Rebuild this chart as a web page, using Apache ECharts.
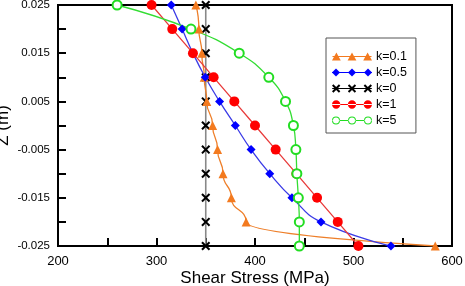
<!DOCTYPE html>
<html>
<head>
<meta charset="utf-8">
<script src="https://cdn.jsdelivr.net/npm/echarts@6/dist/echarts.min.js"></script>
<style>
html,body{margin:0;padding:0;background:#fff;}
#chart{width:465px;height:286px;}
</style>
</head>
<body>
<div id="chart"></div>
<script>
// z positions (m)
var zValues = [0.025, 0.02, 0.015, 0.01, 0.005, 0, -0.005, -0.01, -0.015, -0.02, -0.025];
// shear stress (MPa) per series
var stressK01 = [340, 343, 346, 348.5, 351, 357, 362, 367.5, 376, 391, 583];
var stressK05 = [315, 326, 337, 349.5, 364, 380, 396, 415, 437.5, 467, 538];
var stressK0  = [350, 350, 350, 350, 350, 350, 350, 350, 350, 350, 350];
var stressK1  = [295, 316, 337, 358, 379, 400, 421, 442, 463, 484, 505];
var stressK5  = [260, 335, 384, 414, 431, 439, 441.5, 442.5, 444, 445, 445];
var seriesNames = ['k=0.1', 'k=0.5', 'k=0', 'k=1', 'k=5'];
var xTickLabels = [200, 300, 400, 500, 600];
var yTickLabels = [0.025, 0.015, 0.005, -0.005, -0.015, -0.025];

function pairs(xs){ return xs.map(function(x,i){ return [x, zValues[i]]; }); }

var ORANGE = '#F37A1F', BLUE = '#0000FF', RED = '#FF0000', GREEN = '#22DD22';

var xPath = 'path://M0,1.6L1.6,0L5,3.4L8.4,0L10,1.6L6.6,5L10,8.4L8.4,10L5,6.6L1.6,10L0,8.4L3.4,5Z';

function ring(cx, cy, r, r2){
  return 'M'+(cx-r)+','+cy+'A'+r+','+r+',0,1,0,'+(cx+r)+','+cy+'A'+r+','+r+',0,1,0,'+(cx-r)+','+cy+'Z'+
         'M'+(cx-r2)+','+cy+'A'+r2+','+r2+',0,1,1,'+(cx+r2)+','+cy+'A'+r2+','+r2+',0,1,1,'+(cx-r2)+','+cy+'Z';
}
function circ(cx, cy, r){
  return 'M'+(cx-r)+','+cy+'A'+r+','+r+',0,1,0,'+(cx+r)+','+cy+'A'+r+','+r+',0,1,0,'+(cx-r)+','+cy+'Z';
}
function tri(cx, cy){ return 'M'+(cx-4.5)+','+(cy+4)+'L'+cx+','+(cy-4)+'L'+(cx+4.5)+','+(cy+4)+'Z'; }
function dia(cx, cy){ return 'M'+(cx-4)+','+cy+'L'+cx+','+(cy-4)+'L'+(cx+4)+','+cy+'L'+cx+','+(cy+4)+'Z'; }
function xm(cx, cy){
  var s=4.2, t=1.4;
  return 'M'+(cx-s)+','+(cy-s+t)+'L'+(cx-s+t)+','+(cy-s)+'L'+cx+','+(cy-t)+'L'+(cx+s-t)+','+(cy-s)+'L'+(cx+s)+','+(cy-s+t)+
    'L'+(cx+t)+','+cy+'L'+(cx+s)+','+(cy+s-t)+'L'+(cx+s-t)+','+(cy+s)+'L'+cx+','+(cy+t)+'L'+(cx-s+t)+','+(cy+s)+'L'+(cx-s)+','+(cy+s-t)+'L'+(cx-t)+','+cy+'Z';
}
var cy = 5;
var lineBar = 'M0,'+(cy-0.6)+'L40,'+(cy-0.6)+'L40,'+(cy+0.6)+'L0,'+(cy+0.6)+'Z';
var centers = [4, 20, 36];
function icon(fn){ return 'path://' + lineBar + centers.map(function(c){ return fn(c, cy); }).join(''); }
var ringIcon = 'path://' + 'M7.5,'+(cy-0.6)+'L16.5,'+(cy-0.6)+'L16.5,'+(cy+0.6)+'L7.5,'+(cy+0.6)+'Z' +
  'M23.5,'+(cy-0.6)+'L32.5,'+(cy-0.6)+'L32.5,'+(cy+0.6)+'L23.5,'+(cy+0.6)+'Z' +
  'M0,'+(cy-0.6)+'L0.5,'+(cy-0.6)+'L0.5,'+(cy+0.6)+'L0,'+(cy+0.6)+'Z' +
  'M39.5,'+(cy-0.6)+'L40,'+(cy-0.6)+'L40,'+(cy+0.6)+'L39.5,'+(cy+0.6)+'Z' +
  centers.map(function(c){ return ring(c, cy, 4, 3); }).join('');

var FONT = 'Liberation Sans, Arial, sans-serif';

var chart = echarts.init(document.getElementById('chart'), null, {renderer:'canvas'});
chart.setOption({
  animation: false,
  backgroundColor: '#fff',
  grid: {left: 58, right: 13, top: 5, bottom: 40, containLabel: false, outerBoundsMode: 'none',
         show: true, borderColor: '#000', borderWidth: 2, backgroundColor: 'transparent'},
  legend: {
    orient: 'vertical', left: 326, top: 38,
    padding: [12, 9, 6, 6], itemGap: 3, itemWidth: 40, itemHeight: 13,
    borderColor: '#555', borderWidth: 1, backgroundColor: '#fff',
    textStyle: {fontFamily: FONT, fontSize: 12.5, color: '#000', padding: [0,0,0,-1]},
    data: [
      {name: seriesNames[0], icon: icon(tri), itemStyle: {color: ORANGE, borderWidth: 0}},
      {name: seriesNames[1], icon: icon(dia), itemStyle: {color: BLUE, borderWidth: 0}},
      {name: seriesNames[2], icon: icon(xm), itemStyle: {color: '#000', borderWidth: 0}},
      {name: seriesNames[3], icon: icon(function(c,y){return circ(c,y,4.2);}), itemStyle: {color: RED, borderWidth: 0}},
      {name: seriesNames[4], icon: ringIcon, itemStyle: {color: GREEN, borderWidth: 0}}
    ]
  },
  xAxis: {
    type: 'value', min: 200, max: 600, interval: 50,
    name: 'Shear Stress (MPa)', nameLocation: 'middle', nameGap: 24, nameMoveOverlap: false,
    nameTextStyle: {fontFamily: FONT, fontSize: 17, color: '#000'},
    axisLine: {show: true, onZero: false, lineStyle: {color: '#000', width: 2}},
    axisTick: {show: true, inside: true, length: 8, lineStyle: {color: '#000', width: 2}},
    axisLabel: {margin: 9, fontFamily: FONT, fontSize: 13, color: '#000',
      formatter: function(v){ return xTickLabels.indexOf(Math.round(v)) >= 0 ? String(Math.round(v)) : ''; }},
    splitLine: {show: false}
  },
  yAxis: {
    type: 'value', min: -0.025, max: 0.025, interval: 0.005,
    name: 'Z (m)', nameLocation: 'middle', nameGap: 46, nameMoveOverlap: false,
    nameTextStyle: {fontFamily: FONT, fontSize: 17, color: '#000'},
    axisLine: {show: true, onZero: false, lineStyle: {color: '#000', width: 2}},
    axisTick: {show: true, inside: true, length: 8, lineStyle: {color: '#000', width: 2}},
    axisLabel: {margin: 8, fontFamily: FONT, fontSize: 11.5, color: '#000',
      formatter: function(v){
        var r = Math.round(v*1000)/1000;
        for (var i=0;i<yTickLabels.length;i++){ if (Math.abs(yTickLabels[i]-r) < 1e-9) return r.toFixed(3); }
        return '';
      }},
    splitLine: {show: false}
  },
  series: [
    {name: seriesNames[0], type: 'line', data: pairs(stressK01), smooth: 0.55, smoothMonotone: 'y',
     symbol: 'triangle', symbolSize: 9, itemStyle: {color: ORANGE}, lineStyle: {color: '#EE7F2A', width: 1.3}, z: 3},
    {name: seriesNames[1], type: 'line', data: pairs(stressK05), smooth: 0.5,
     symbol: 'diamond', symbolSize: 9, itemStyle: {color: BLUE}, lineStyle: {color: '#3B3BE6', width: 1.3}, z: 3},
    {name: seriesNames[2], type: 'line', data: pairs(stressK0),
     symbol: xPath, symbolSize: 9, itemStyle: {color: '#000'}, lineStyle: {color: '#888', width: 1.6}, z: 2},
    {name: seriesNames[3], type: 'line', data: pairs(stressK1),
     symbol: 'circle', symbolSize: 10, itemStyle: {color: RED}, lineStyle: {color: '#E83A3A', width: 1.3}, z: 3},
    {name: seriesNames[4], type: 'line', data: pairs(stressK5), smooth: 0.5,
     symbol: 'emptyCircle', symbolSize: 9, itemStyle: {color: GREEN, borderWidth: 1.3}, lineStyle: {color: '#33DD33', width: 1.3}, z: 3}
  ]
});
</script>
</body>
</html>
